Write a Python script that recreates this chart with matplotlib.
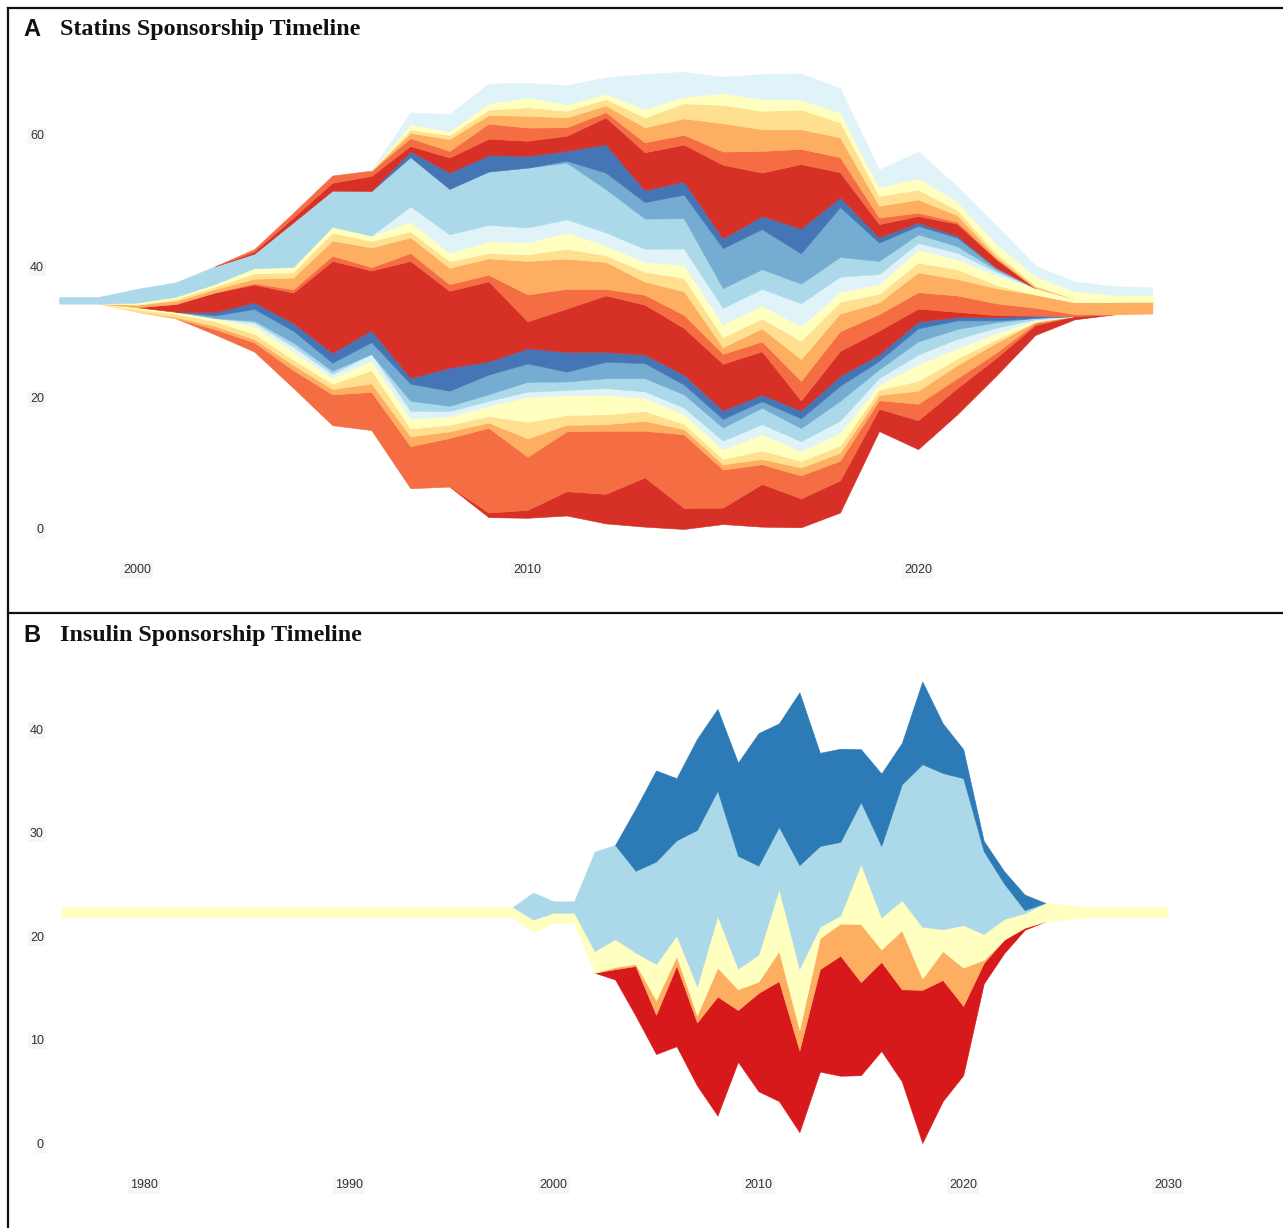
import numpy as np
import matplotlib
matplotlib.use('Agg')
import matplotlib.pyplot as plt
from matplotlib.lines import Line2D

W, H = 1283, 1228

# ---------------- Statins (panel A), layers bottom -> top ----------------
years_a = list(range(1998, 2027))

a00 = [0, 0, 0, 0, 0, 0, 0, 0, 0, 0, 0, 0.7, 1.2, 3.7, 4.5, 7.5, 3.2, 2.5, 6.5, 4.4, 4.9, 3.4, 4.4, 4.0, 2.7, 1.5, 0.5, 0, 0]
a01 = [0, 0, 0, 0, 0.8, 1.4, 2.7, 4.7, 5.8, 6.4, 7.4, 12.9, 8.1, 9.1, 9.6, 7.1, 11.2, 5.8, 3.0, 3.5, 3.0, 1.3, 2.5, 1.5, 0.8, 0.3, 0, 0, 0]
a02 = [0, 0, 0, 0.2, 0.5, 0.5, 0.8, 0.8, 1.3, 1.5, 1.0, 0.8, 2.8, 1.0, 1.0, 1.5, 0.8, 0.8, 0.8, 1.2, 1.2, 0.8, 2.0, 2.0, 1.5, 0.2, 0, 0, 0]
a03 = [0, 0, 0.4, 0.5, 0.7, 0.8, 0.8, 0.8, 2.0, 1.2, 1.0, 1.0, 2.5, 1.5, 1.5, 1.5, 0.8, 0.8, 1.3, 1.0, 1.1, 0.8, 1.5, 1.0, 0.5, 0, 0, 0, 0]
a04 = [0, 0, 0.3, 0.3, 0.5, 1.2, 1.3, 0.9, 1.5, 1.5, 1.3, 1.5, 3.8, 3.0, 3.0, 2.0, 1.5, 1.5, 2.5, 1.5, 2.0, 0.8, 2.5, 1.5, 1.0, 0.2, 0, 0, 0]
a05 = [0, 0, 0, 0, 0, 0.5, 0.7, 0.6, 1.0, 1.2, 0.8, 0.8, 0.8, 0.8, 1.0, 1.0, 1.0, 1.3, 1.5, 1.5, 1.8, 1.0, 1.5, 1.5, 0.8, 0.2, 0, 0, 0]
a06 = [0, 0, 0, 0, 0, 0.3, 0.6, 0.5, 0, 1.5, 0.8, 1.0, 1.5, 1.3, 1.5, 2.0, 2.0, 2.0, 2.5, 2.0, 3.0, 1.3, 2.0, 1.5, 0.8, 0.2, 0, 0, 0]
a07 = [0, 0, 0, 0, 0.4, 1.8, 1.8, 1.2, 1.8, 2.6, 2.3, 3.0, 2.8, 1.5, 2.5, 2.3, 1.5, 1.3, 1.0, 1.5, 2.3, 1.3, 2.0, 1.3, 0.3, 0, 0, 0, 0]
a08 = [0, 0, 0, 0, 0.5, 1.0, 1.2, 1.5, 1.8, 0.9, 3.5, 2.0, 2.3, 3.0, 1.5, 1.3, 1.5, 1.3, 1.0, 1.2, 1.5, 1.0, 1.0, 0.5, 0.5, 0.35, 0, 0, 0]
a09 = [0, 0, 0, 1.2, 3.0, 2.7, 4.6, 14.0, 9.1, 17.8, 11.7, 12.2, 4.1, 6.6, 8.6, 7.6, 7.1, 7.1, 6.6, 1.5, 3.8, 3.6, 2.0, 0.8, 0.3, 0, 0, 0, 0]
a10 = [0, 0, 0, 0, 0, 0.2, 0.5, 0.8, 0.5, 1.2, 1.0, 1.0, 4.1, 3.0, 1.0, 1.5, 2.0, 1.5, 1.5, 3.0, 3.0, 2.5, 2.5, 2.5, 1.8, 1.2, 0.3, 0, 0]
a11 = [0, 0, 0.4, 0.5, 0.5, 0.7, 1.8, 2.3, 3.0, 2.4, 2.5, 2.5, 5.1, 4.6, 4.1, 2.0, 3.6, 1.0, 2.0, 3.3, 2.7, 1.8, 3.0, 2.5, 2.3, 2.0, 1.8, 1.9, 1.8]
a12 = [0, 0, 0, 0.3, 0.4, 0.8, 0.8, 1.2, 1.0, 0.9, 1.0, 0.8, 1.0, 1.5, 1.0, 1.5, 2.0, 1.5, 1.5, 2.8, 1.8, 1.3, 1.5, 1.5, 0.5, 0, 0, 0, 0]
a13 = [0, 0, 0.3, 0.3, 0.4, 0.8, 0.8, 0.9, 0.8, 1.5, 1.3, 1.8, 1.8, 2.5, 1.5, 1.5, 2.0, 2.0, 2.0, 2.2, 1.5, 1.5, 2.0, 1.5, 1.5, 1.0, 0.5, 0, 0]
a14 = [0, 0, 0, 0, 0, 0, 0, 0, 0, 2.3, 2.8, 2.5, 2.3, 2.0, 2.0, 2.0, 2.5, 2.5, 2.5, 3.5, 2.3, 1.5, 1.0, 1.0, 0.5, 0, 0, 0, 0]
a15 = [1.0, 1.0, 2.1, 2.2, 2.7, 2.2, 6.8, 5.5, 6.8, 7.5, 6.9, 8.1, 9.1, 8.6, 6.6, 4.6, 4.6, 3.0, 3.0, 3.0, 3.0, 2.0, 1.3, 1.0, 0.3, 0, 0, 0, 0]
a16 = [0, 0, 0, 0, 0, 0, 0, 0, 0, 0, 0, 0, 0, 0.3, 2.5, 2.5, 3.6, 6.1, 6.1, 4.6, 7.6, 2.8, 1.3, 1.3, 0.3, 0, 0, 0, 0]
a17 = [0, 0, 0, 0, 0, 0, 0, 0, 0, 0.9, 2.5, 2.5, 1.8, 1.5, 4.3, 1.8, 2.0, 1.5, 2.0, 3.8, 1.5, 0.8, 0.5, 0.3, 0, 0, 0, 0, 0]
a18 = [0, 0, 0, 0, 0, 0.35, 0.75, 1.2, 2.3, 0.8, 2.3, 2.5, 2.3, 2.3, 4.1, 5.8, 5.6, 11.2, 6.6, 9.8, 3.8, 2.0, 1.0, 1.8, 1.3, 0, 0, 0, 0]
a19 = [0, 0, 0, 0, 0, 0.35, 0.7, 1.1, 0.8, 1.2, 1.0, 2.3, 2.0, 1.3, 0.8, 1.5, 1.5, 2.0, 3.3, 2.3, 2.3, 1.0, 0.5, 0.3, 0.1, 0, 0, 0, 0]
a20 = [0, 0, 0, 0, 0, 0, 0, 0, 0, 0.8, 1.8, 1.3, 1.8, 1.5, 1.0, 2.3, 2.5, 4.3, 3.3, 3.0, 3.0, 1.8, 2.0, 1.0, 0.3, 0.2, 0, 0, 0]
a21 = [0, 0, 0, 0, 0, 0, 0, 0, 0, 0.5, 0.6, 0.8, 1.3, 1.0, 1.0, 1.5, 2.3, 2.8, 2.8, 3.0, 2.3, 1.5, 1.5, 0.8, 0.5, 0.2, 0, 0, 0]
a22 = [0, 0, 0, 0, 0, 0, 0, 0, 0, 0.8, 0.6, 1.0, 1.5, 1.0, 0.8, 1.3, 1.0, 1.8, 1.8, 1.5, 1.5, 1.3, 1.8, 1.3, 1.5, 1.4, 1.2, 1.1, 1.0]
a23 = [0, 0, 0, 0, 0, 0, 0, 0, 0, 1.8, 2.6, 3.0, 2.2, 2.9, 2.5, 5.3, 3.8, 2.5, 3.8, 4.0, 3.7, 2.7, 4.0, 2.3, 2.8, 1.6, 1.5, 1.3, 1.2]

# ---------------- Insulin (panel B), layers bottom -> top ----------------
years_b = list(range(1976, 2031))

b_red = [0, 0, 0, 0, 0, 0, 0, 0, 0, 0, 0, 0, 0, 0, 0, 0, 0, 0, 0, 0, 0, 0, 0, 0, 0, 0, 0,
         1.0, 4.8, 3.8, 7.8, 6.1, 11.5, 5.0, 9.5, 11.6, 7.9, 9.9, 11.6, 9.0, 8.6, 8.9, 14.8, 11.7, 6.7, 2.0, 1.3, 0.2,
         0, 0, 0, 0, 0, 0, 0]
b_orange = [0, 0, 0, 0, 0, 0, 0, 0, 0, 0, 0, 0, 0, 0, 0, 0, 0, 0, 0, 0, 0, 0, 0, 0, 0, 0, 0,
            0.2, 0.2, 1.4, 0.9, 0.7, 2.8, 2.0, 1.1, 2.9, 2.0, 3.0, 3.1, 5.6, 1.2, 5.7, 1.1, 2.8, 3.7, 0.3, 0, 0,
            0, 0, 0, 0, 0, 0, 0]
b_pyellow = [1.0, 1.0, 1.0, 1.0, 1.0, 1.0, 1.0, 1.0, 1.0, 1.0, 1.0, 1.0, 1.0, 1.0, 1.0, 1.0, 1.0, 1.0, 1.0, 1.0, 1.0, 1.0, 1.0,
             1.2, 1.0, 1.0, 2.1, 2.7, 1.1, 3.5, 2.0, 2.8, 5.0, 2.0, 2.6, 6.0, 5.9, 1.1, 0.8, 5.8, 3.1, 2.9, 5.0, 2.1, 4.1,
             2.5, 2.0, 1.4, 1.8, 1.4, 1.0, 1.0, 1.0, 1.0, 1.0]
b_lblue = [0, 0, 0, 0, 0, 0, 0, 0, 0, 0, 0, 0, 0, 0, 0, 0, 0, 0, 0, 0, 0, 0, 0,
           2.6, 1.1, 1.1, 9.6, 9.1, 7.9, 9.9, 9.2, 15.1, 12.1, 10.9, 8.6, 6.0, 10.0, 7.8, 7.1, 6.0, 6.9, 11.2, 15.7, 15.1, 14.2,
           8.0, 3.4, 0.3, 0, 0, 0, 0, 0, 0, 0]
b_blue = [0, 0, 0, 0, 0, 0, 0, 0, 0, 0, 0, 0, 0, 0, 0, 0, 0, 0, 0, 0, 0, 0, 0, 0, 0, 0, 0, 0,
          6.0, 8.8, 6.0, 8.8, 7.9, 9.0, 12.8, 10.0, 16.7, 9.0, 9.0, 5.1, 7.0, 4.0, 8.0, 4.8, 2.8, 1.0, 1.2, 1.5, 0,
          0, 0, 0, 0, 0, 0]

rdylbu9 = ['#d73027', '#f46d43', '#fdae61', '#fee090', '#ffffbf', '#e0f3f8', '#abd9e9', '#74add1', '#4575b4']
rdylbu5 = ['#d7191c', '#fdae61', '#ffffbf', '#abd9e9', '#2c7bb6']

statin_layers = [a00, a01, a02, a03, a04, a05, a06, a07, a08, a09, a10, a11,
                 a12, a13, a14, a15, a16, a17, a18, a19, a20, a21, a22, a23]
statin_colors = [rdylbu9[i % 9] for i in range(len(statin_layers))]
insulin_layers = [b_red, b_orange, b_pyellow, b_lblue, b_blue]


def stream(ax, x, layers, colors):
    data = np.array(layers, dtype=float)
    total = data.sum(axis=0)
    base = total.max() / 2 - total / 2   # silhouette around a fixed centre
    for row, c in zip(data, colors):
        top = base + row
        # only where the band (or a neighbour) has a thickness, so empty
        # stretches do not leave a hairline of edge colour
        on = row > 0
        near = on.copy()
        near[1:] |= on[:-1]
        near[:-1] |= on[1:]
        ax.fill_between(x, base, top, where=near, facecolor=c, edgecolor=c,
                        linewidth=0.4)
        base = top


def style(ax, xticks, yticks):
    for s in ax.spines.values():
        s.set_visible(False)
    ax.set_xticks(xticks)
    ax.set_yticks(yticks)
    ax.tick_params(length=0, labelsize=9, labelcolor='#333333', pad=14)
    ax.tick_params(axis='y', pad=8)
    for lab in ax.get_xticklabels() + ax.get_yticklabels():
        lab.set_fontfamily('Liberation Sans')
        lab.set_bbox(dict(facecolor='#f6f6f6', edgecolor='none', pad=1.5))


def fx(px):
    return px / W


def fy(py):
    return 1 - py / H


fig = plt.figure(figsize=(W / 100, H / 100), dpi=100)

# panel A axes: pixel box left 55, right 1270, top 55, bottom 545
axA = fig.add_axes([fx(55), fy(545), fx(1270) - fx(55), fy(55) - fy(545)])
stream(axA, years_a, statin_layers, statin_colors)
axA.set_xlim(1997.90, 2029.01)
axA.set_ylim(-2.44, 72.15)
style(axA, [2000, 2010, 2020], [0, 20, 40, 60])

# panel B axes: pixel box left 55, right 1270, top 660, bottom 1160
axB = fig.add_axes([fx(55), fy(1160), fx(1270) - fx(55), fy(660) - fy(1160)])
stream(axB, years_b, insulin_layers, rdylbu5)
axB.set_xlim(1975.65, 2034.98)
axB.set_ylim(-1.64, 46.67)
style(axB, [1980, 1990, 2000, 2010, 2020, 2030], [0, 10, 20, 30, 40])

# panel letters and titles
for py, letter, title in [(30, 'A', 'Statins Sponsorship Timeline'),
                          (635, 'B', 'Insulin Sponsorship Timeline')]:
    fig.text(fx(23), fy(py), letter, fontfamily='Liberation Sans', fontweight='bold',
             fontsize=17, va='center', ha='left', color='#111111')
    fig.text(fx(60), fy(py), title, fontfamily='Liberation Serif', fontweight='bold',
             fontsize=17.3, va='center', ha='left', color='#111111')

# frame lines
fig.add_artist(Line2D([fx(8), fx(8)], [fy(8), fy(H)], color='#111111', linewidth=1.6))
fig.add_artist(Line2D([fx(8), 1], [fy(8), fy(8)], color='#111111', linewidth=1.6))
fig.add_artist(Line2D([fx(8), 1], [fy(613), fy(613)], color='#111111', linewidth=1.6))

fig.savefig('out.png', dpi=100, facecolor='white')
